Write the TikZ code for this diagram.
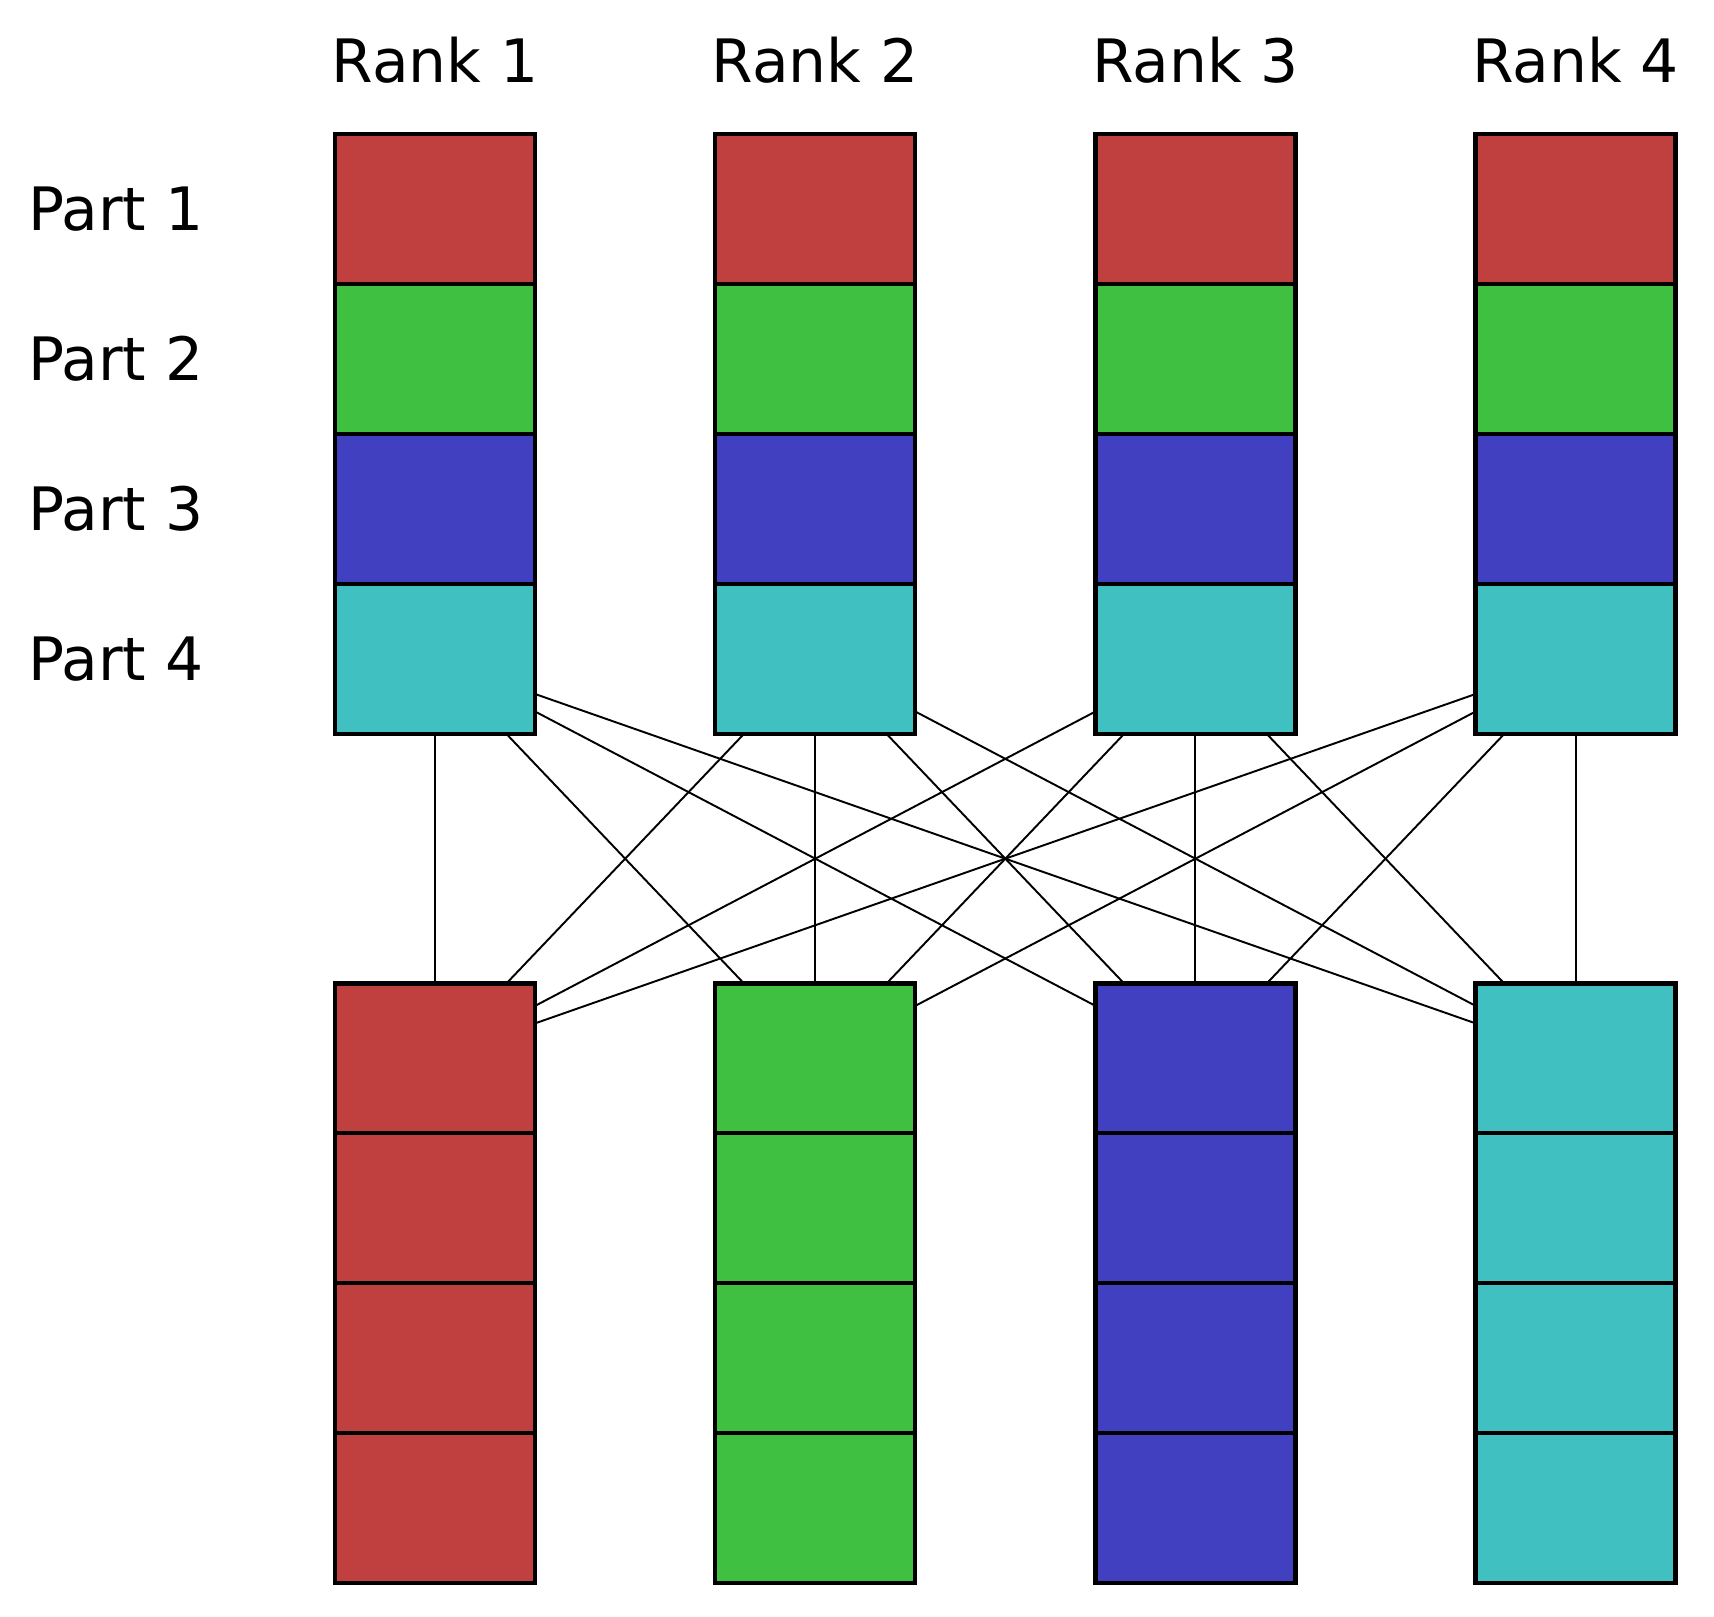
\documentclass[tikz,border=0pt]{standalone}
\usepackage{fontspec}
\setmainfont{DejaVu Sans}
\usetikzlibrary{backgrounds}
\definecolor{partA}{RGB}{192,64,64}
\definecolor{partB}{RGB}{64,192,64}
\definecolor{partC}{RGB}{64,64,192}
\definecolor{partD}{RGB}{64,192,192}

\begin{document}
\begin{tikzpicture}[cell/.style={draw=black, line width=1.1pt, minimum width=1.82cm, minimum height=1.365cm, inner sep=0pt, outer sep=0pt},
  lbl/.style={font=\fontsize{15.5}{18}\selectfont, inner sep=0pt}]

\useasboundingbox (0,0) rectangle (15.6,-14.71);

\foreach \i in {1,...,4}
  \node[lbl] (rank\i) at ({3.96+3.46*(\i-1)},-0.55) {Rank \i};
\foreach \k in {1,...,4}
  \node[lbl, anchor=west] (part\k) at (0.25,{-1.9025-1.365*(\k-1)}) {Part \k};

% top: every rank holds all parts
\foreach \i in {1,...,4}
  \foreach \k/\c in {1/partA,2/partB,3/partC,4/partD}
    \node[cell, fill=\c] (t\i\k) at ({3.96+3.46*(\i-1)},{-1.9025-1.365*(\k-1)}) {};

% bottom: rank j gathers part j
\foreach \j/\c in {1/partA,2/partB,3/partC,4/partD}
  \foreach \k in {1,...,4}
    \node[cell, fill=\c] (b\j\k) at ({3.96+3.46*(\j-1)},{-9.6325-1.365*(\k-1)}) {};

\begin{scope}[on background layer]
\foreach \i in {1,...,4}
  \foreach \j in {1,...,4}
    \draw[line width=0.5pt] (t\i4.center) -- (b\j1.center);
\end{scope}
\end{tikzpicture}
\end{document}
